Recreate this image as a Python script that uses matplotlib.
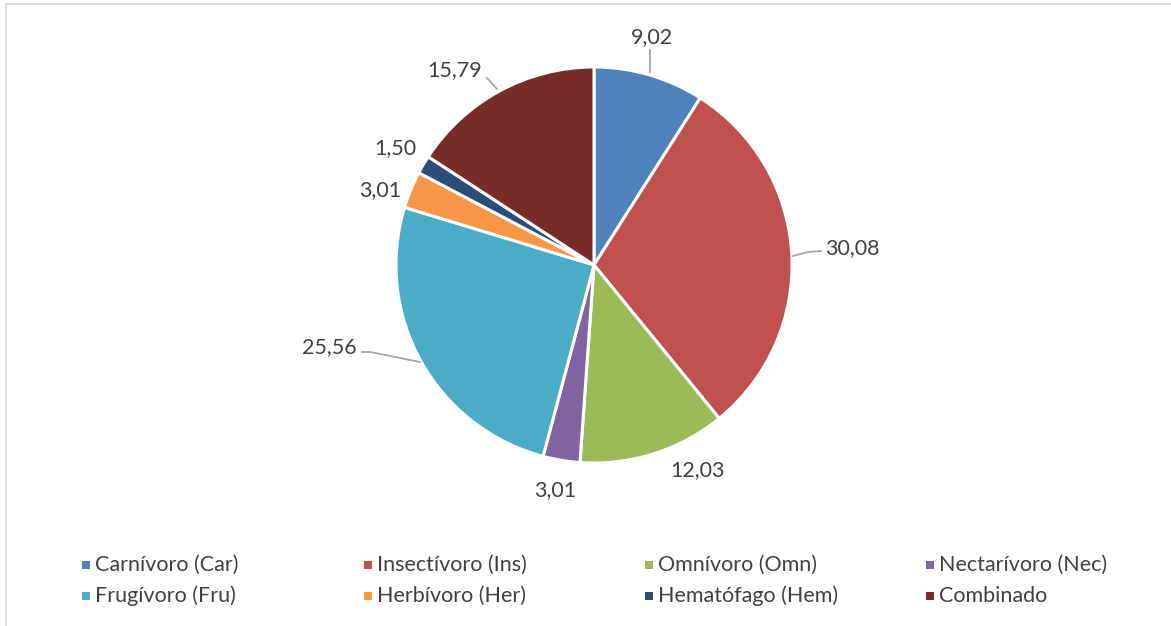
import matplotlib
matplotlib.use("Agg")
import matplotlib.pyplot as plt
from matplotlib.patches import Rectangle

categories = ["Carnívoro (Car)", "Insectívoro (Ins)", "Omnívoro (Omn)", "Nectarívoro (Nec)",
              "Frugívoro (Fru)", "Herbívoro (Her)", "Hematófago (Hem)", "Combinado"]
values = [9.02, 30.08, 12.03, 3.01, 25.56, 3.01, 1.50, 15.79]
labels = ["9,02", "30,08", "12,03", "3,01", "25,56", "3,01", "1,50", "15,79"]
colors = ["#4F81BD", "#C0504D", "#9BBB59", "#8064A2", "#4BACC6", "#F79646", "#2C4D75", "#772C2A"]

W, H = 1171, 626
plt.rcParams['font.family'] = ['Lato', 'DejaVu Sans']
fig = plt.figure(figsize=(W / 100, H / 100), dpi=100)
ax = fig.add_axes([0, 0, 1, 1])
ax.set_xlim(0, W)
ax.set_ylim(0, H)
ax.set_aspect('equal')
ax.axis('off')

def Y(py):
    return H - py

# chart border (top and left visible)
ax.plot([5.5, W], [Y(3.5), Y(3.5)], color="#D9D9D9", lw=1.3, solid_capstyle='butt')
ax.plot([5.5, 5.5], [Y(3.5), 0], color="#D9D9D9", lw=1.3, solid_capstyle='butt')

cx, cy, r = 594, Y(265), 198
ax.pie(values, colors=colors, startangle=90, counterclock=False, center=(cx, cy),
       radius=r, wedgeprops=dict(edgecolor="white", linewidth=2.2), frame=True)
ax.set_xlim(0, W)
ax.set_ylim(0, H)
ax.axis('off')

# data labels (pixel positions of label centers)
label_pos = [(652, 37), (852, 248), (698, 470), (555, 490),
             (329, 347), (380, 190), (395, 148), (455, 70)]
for lab, (px, py) in zip(labels, label_pos):
    ax.text(px, Y(py), lab, ha="center", va="center", fontsize=15.5, color="#404040")

# leader lines
leaders = [
    [(650, 50), (650, 72)],
    [(793, 256), (808, 252), (821, 251)],
    [(362, 352), (370, 352), (420, 362)],
    [(487, 78), (497, 89)],
]
for pts in leaders:
    ax.plot([p[0] for p in pts], [Y(p[1]) for p in pts], color="#A6A6A6", lw=1.3)

# legend
col_x = [82, 364, 645, 926]
row_y = [565, 596]
for i, (cat, col) in enumerate(zip(categories, colors)):
    x = col_x[i % 4]
    y = row_y[i // 4]
    ax.add_patch(Rectangle((x, Y(y) - 4), 8, 8, facecolor=col, edgecolor="none"))
    ax.text(x + 13, Y(y), cat, ha="left", va="center", fontsize=15.5, color="#404040")

fig.savefig("out.png", dpi=100, facecolor="white")
